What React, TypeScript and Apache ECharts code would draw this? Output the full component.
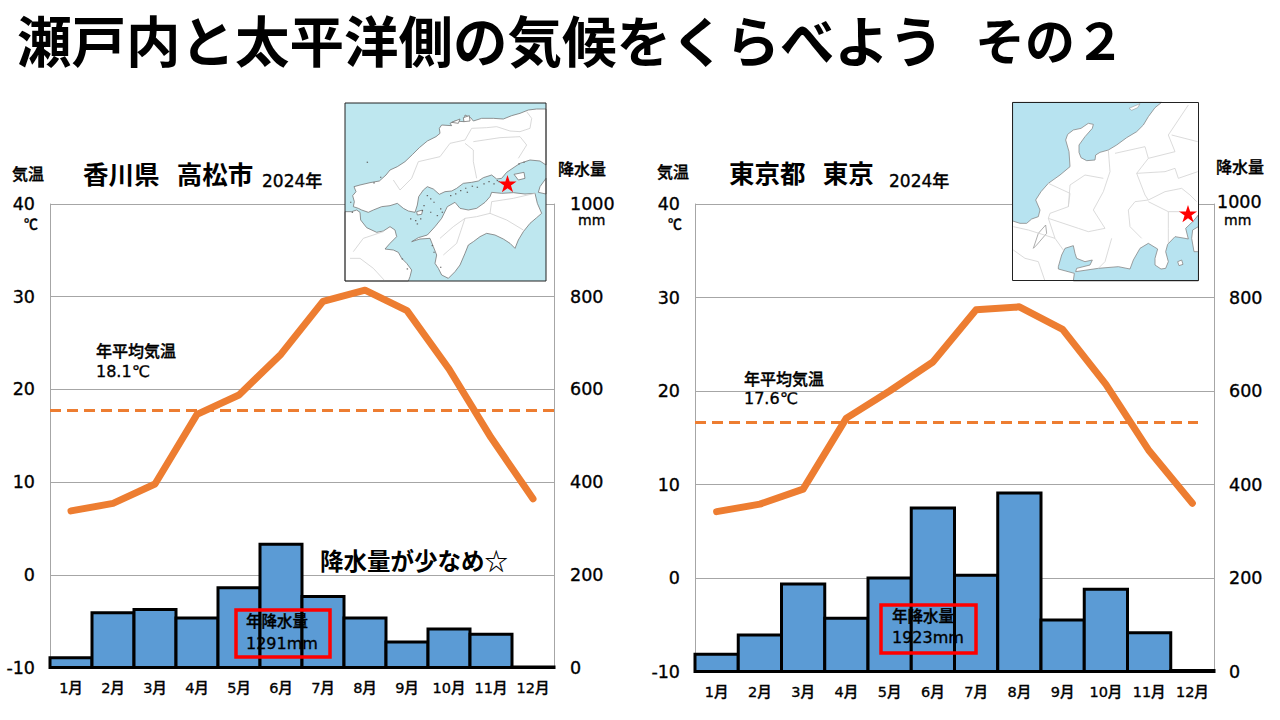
import React, { useEffect, useRef } from "react";
import * as echarts from "echarts";

const months = ["1月", "2月", "3月", "4月", "5月", "6月", "7月", "8月", "9月", "10月", "11月", "12月"];
const tempTicks = [-10, 0, 10, 20, 30, 40];
const rainTicks = [0, 200, 400, 600, 800, 1000];
const takamatsuTemp = [6.9, 7.7, 9.8, 17.3, 19.4, 23.8, 29.5, 30.7, 28.5, 22.2, 14.8, 8.2];
const takamatsuRain = [21, 118, 125, 107, 172, 266, 153, 107, 55, 83, 72, 1];
const takamatsuMean = 17.8;
const tokyoTemp = [7.1, 7.9, 9.5, 17.1, 20.0, 23.1, 28.7, 29.0, 26.6, 20.7, 13.6, 8.0];
const tokyoRain = [37, 78, 187, 114, 200, 350, 206, 382, 110, 176, 83, 2];
const tokyoMean = 16.7;

const FONT = '"Noto Sans CJK JP", "Noto Sans", sans-serif';
const NUMFONT = '"DejaVu Sans", "Noto Sans CJK JP", sans-serif';
const ORANGE = "#ED7D31";
const BLUE = "#5B9BD5";
const GRAY = "#A6A6A6";

type P = [number, number];

const leftLand: P[][] = [
  [[618,42],[590,42],[565,45],[540,55],[515,62],[490,72],[460,70],[425,70],[400,78],[392,68],[375,60],[372,80],[345,78],[330,85],[335,92],[305,90],[298,100],[300,115],[288,125],[262,138],[238,158],[218,178],[195,200],[172,215],[150,225],[138,240],[118,258],[90,263],[60,270],[42,275],[48,290],[38,302],[43,320],[40,335],[55,340],[65,345],[85,352],[100,345],[125,335],[150,332],[172,325],[190,340],[205,348],[225,352],[232,330],[236,305],[250,285],[262,275],[280,282],[298,298],[315,290],[335,288],[350,280],[370,265],[395,262],[415,258],[430,248],[455,240],[470,252],[485,250],[500,232],[525,215],[540,205],[570,195],[600,198],[618,210]],
  [[215,440],[235,428],[262,420],[285,395],[305,370],[322,335],[345,322],[360,340],[385,345],[410,340],[435,322],[450,305],[455,292],[485,295],[520,293],[555,297],[585,295],[592,325],[605,355],[590,368],[570,385],[550,410],[535,435],[525,460],[510,445],[490,432],[465,420],[440,415],[420,425],[400,440],[385,450],[375,475],[360,510],[345,530],[325,550],[305,540],[295,520],[285,505],[290,480],[280,455],[270,430],[240,432]],
  [[15,350],[35,350],[50,345],[60,352],[62,375],[80,398],[110,412],[130,408],[150,395],[165,405],[170,425],[150,445],[135,462],[160,465],[175,472],[185,490],[200,505],[215,525],[210,545],[205,558],[15,558]],
  [[618,250],[600,275],[595,292],[618,297]],
  [[522,238],[552,232],[555,250],[535,255]],
  [[335,82],[360,72],[355,85]],
  [[370,68],[388,62],[390,78],[372,80]],
  [[230,350],[248,345],[245,358],[232,360]],
];
const leftBorders: P[][] = [
  [[375,135],[395,100],[440,98],[470,95],[510,108],[540,110],[570,100],[575,70],[560,50]],
  [[375,135],[330,145],[300,185],[235,200],[215,250],[180,285],[160,255]],
  [[375,145],[400,165],[400,200],[410,250]],
  [[400,140],[480,128],[540,125],[560,150],[535,190]],
  [[450,355],[455,320],[520,310],[585,295]],
  [[300,430],[340,395],[375,370],[410,365],[450,355],[500,375],[550,405]],
  [[310,480],[350,445],[375,370]],
  [[40,470],[70,430],[130,410]],
  [[30,490],[60,490],[100,520],[135,558]],
];
const rightSado: P[] = [[372,40],[405,26],[398,38],[380,46]];
const rightSea: P[][] = [
  [[23,22],[470,22],[450,38],[430,65],[415,90],[395,110],[365,128],[335,150],[310,165],[285,172],[272,180],[270,195],[245,197],[228,188],[222,172],[222,150],[240,125],[262,100],[265,88],[250,85],[228,100],[205,105],[188,118],[182,135],[192,170],[195,215],[165,240],[130,265],[108,290],[92,315],[105,345],[100,365],[80,372],[65,385],[45,385],[23,378]],
  [[160,515],[170,480],[180,460],[205,452],[210,475],[215,490],[240,500],[262,495],[255,510],[215,520],[212,530],[280,520],[340,515],[375,522],[385,495],[405,460],[430,445],[458,462],[450,490],[450,510],[468,522],[482,520],[490,500],[482,470],[488,448],[510,425],[540,430],[550,432],[542,400],[565,378],[580,360],[580,558],[205,558],[208,535],[160,522]],
];
const rightIslands: P[][] = [
  [[563,405],[580,395],[580,470],[567,470],[560,430]],
  [[518,500],[530,495],[534,508],[522,512]],
];
const rightBorders: P[][] = [
  [[310,165],[315,230],[295,290],[265,345],[300,400],[250,410],[220,400],[130,370],[135,355],[190,335],[195,270],[240,240],[295,250]],
  [[130,265],[195,295],[190,335]],
  [[330,175],[420,155],[430,190],[395,235],[420,300],[430,315],[390,320],[370,345],[375,395],[410,430]],
  [[430,190],[510,170],[490,120],[550,30]],
  [[395,235],[480,230],[510,220],[520,250],[578,230]],
  [[430,315],[480,290],[530,280],[555,300],[575,320]],
  [[430,320],[490,350],[525,350]],
  [[490,350],[490,400],[490,445]],
  [[320,430],[300,500],[280,520]],
  [[130,370],[150,430],[175,465]],
  [[25,395],[70,405],[150,430]],
  [[25,465],[60,490],[100,500],[120,558]],
  [[500,120],[578,140]],
];
const rightBiwa: P[] = [[85,460],[100,415],[122,390],[125,415],[95,450]];
const leftSpecks: P[] = [[260,300],[280,320],[300,340],[250,330],[270,310],[245,345],[330,300],[345,295],[360,285],[375,278],[380,290],[395,272],[410,275],[430,265],[445,258],[460,265],[475,258],[240,370],[210,370],[225,375],[270,350],[290,360],[305,350],[230,385],[300,515],[280,470],[275,450],[200,520],[185,490],[80,200],[470,255],[535,205],[550,200],[30,320],[35,350],[100,262],[120,245]];

const star = (cx: number, cy: number, r: number): P[] => {
  const out: P[] = [];
  for (let i = 0; i < 10; i++) {
    const rr = i % 2 === 0 ? r : r * 0.382;
    const a = -Math.PI / 2 + (i * Math.PI) / 5;
    out.push([cx + rr * Math.cos(a), cy + rr * Math.sin(a)]);
  }
  return out;
};

const Z = 100;

function text(x: number, y: number, t: string, size: number, weight: number | string = 500, font = NUMFONT) {
  const thin = weight === 500;
  return {
    type: "text",
    x,
    y,
    z: Z + 3,
    style: {
      text: t,
      fontSize: size,
      fontWeight: weight,
      fontFamily: font,
      fill: "#000",
      align: "left",
      verticalAlign: "middle",
      ...(thin ? { stroke: "#000", lineWidth: 0.35 } : {}),
    },
  };
}

function poly(ox: number, oy: number, pts: P[], fill: string, stroke: string, lw: number, z: number) {
  return {
    type: "polygon",
    z,
    shape: { points: pts.map(([x, y]) => [ox + x / 3, oy + y / 3]) },
    style: { fill, stroke, lineWidth: lw },
  };
}
function line(ox: number, oy: number, pts: P[], stroke: string, lw: number, z: number) {
  return {
    type: "polyline",
    z,
    shape: { points: pts.map(([x, y]) => [ox + x / 3, oy + y / 3]) },
    style: { fill: "none", stroke, lineWidth: lw },
  };
}

function leftMap(): any[] {
  const ox = 340, oy = 95;
  const els: any[] = [];
  els.push({ type: "rect", z: Z, shape: { x: 345, y: 103, width: 201, height: 178 }, style: { fill: "#BEE7EF", stroke: "none" } });
  leftLand.forEach((p) => els.push(poly(ox, oy, p, "#fff", "#777", 0.8, Z + 1)));
  leftBorders.forEach((p) => els.push(line(ox, oy, p, "#CFCFCF", 0.8, Z + 1)));
  leftSpecks.forEach(([x, y]) => els.push({ type: "rect", z: Z + 1, shape: { x: ox + x / 3, y: oy + y / 3, width: 1.4, height: 1.2 }, style: { fill: "#666" } }));
  els.push({ type: "rect", z: Z + 2, shape: { x: 345, y: 103, width: 201, height: 178 }, style: { fill: "none", stroke: "#222", lineWidth: 1 } });
  els.push({ type: "polygon", z: Z + 2, shape: { points: star(507.5, 184.5, 9.5) }, style: { fill: "#FF0000" } });
  return els;
}

function rightMap(): any[] {
  const ox = 1005, oy = 95;
  const els: any[] = [];
  els.push({ type: "rect", z: Z, shape: { x: 1012.5, y: 102.5, width: 186, height: 178 }, style: { fill: "#fff", stroke: "none" } });
  rightSea.forEach((p) => els.push(poly(ox, oy, p, "#B7E3F0", "#888", 0.8, Z + 1)));
  rightIslands.forEach((p) => els.push(poly(ox, oy, p, "#fff", "#888", 0.8, Z + 1)));
  els.push(poly(ox, oy, rightSado, "#fff", "#999", 0.6, Z + 1));
  els.push(poly(ox, oy, rightBiwa, "#fff", "#999", 0.8, Z + 1));
  rightBorders.forEach((p) => els.push(line(ox, oy, p, "#D2D2D2", 0.8, Z + 1)));
  els.push({ type: "rect", z: Z + 2, shape: { x: 1012.5, y: 102.5, width: 186, height: 178 }, style: { fill: "none", stroke: "#222", lineWidth: 1 } });
  els.push({ type: "polygon", z: Z + 2, shape: { points: star(1188, 214.5, 9.5) }, style: { fill: "#FF0000" } });
  return els;
}

function redBox(x: number, y: number, w: number, h: number) {
  return { type: "rect", z: Z, shape: { x, y, width: w, height: h }, style: { fill: "none", stroke: "#FF0000", lineWidth: 3.5 } };
}

const renderBar = (params: any, api: any) => {
  const i = api.value(0);
  const top = api.coord([i, api.value(1)]);
  const base = api.coord([i, 0]);
  const w = api.size([1, 0])[0];
  return {
    type: "rect",
    shape: { x: top[0] - w / 2, y: top[1], width: w, height: base[1] - top[1] },
    style: { fill: BLUE, stroke: "#000", lineWidth: 3 },
  };
};

function chartParts(gridIndex: number, temp: number[], rain: number[], mean: number, x0: number, x1: number, pad: number, rightMargin: number, hideTop: boolean) {
  const tAxis = gridIndex * 2;
  const rAxis = gridIndex * 2 + 1;
  const labelBase = { color: "#000", fontSize: 17.5, fontFamily: NUMFONT, fontWeight: 500, textBorderColor: "#000", textBorderWidth: 0.35 };
  return {
    xAxis: {
      type: "category",
      gridIndex,
      data: months,
      axisTick: { show: false },
      axisLine: { show: false },
      axisLabel: { ...labelBase, fontSize: 14.5, margin: 13, interval: 0 },
    },
    yAxis: [
      {
        type: "value",
        gridIndex,
        min: tempTicks[0],
        max: tempTicks[tempTicks.length - 1],
        interval: 10,
        axisLine: { show: true, lineStyle: { color: GRAY, width: 1 } },
        axisTick: { show: false },
        splitLine: { show: true, lineStyle: { color: GRAY, width: 1 } },
        axisLabel: { ...labelBase, margin: 15, padding: [0, 0, pad, 0] },
      },
      {
        type: "value",
        gridIndex,
        position: "right",
        min: rainTicks[0],
        max: rainTicks[rainTicks.length - 1],
        interval: 200,
        axisLine: { show: true, lineStyle: { color: GRAY, width: 1 } },
        axisTick: { show: false },
        splitLine: { show: false },
        axisLabel: {
          ...labelBase,
          margin: rightMargin,
          padding: [0, 0, pad, 0],
          formatter: (v: number) => (hideTop && v === 1000 ? "" : String(v)),
        },
      },
    ],
    series: [
      {
        type: "custom",
        xAxisIndex: gridIndex,
        yAxisIndex: rAxis,
        data: rain.map((v, i) => [i, v]),
        encode: { x: 0, y: 1 },
        renderItem: renderBar,
        clip: false,
        z: 2,
      },
      {
        type: "line",
        xAxisIndex: gridIndex,
        yAxisIndex: tAxis,
        data: temp,
        symbol: "none",
        lineStyle: { color: ORANGE, width: 7, join: "round", cap: "round" },
        z: 3,
        markLine: {
          silent: true,
          symbol: "none",
          label: { show: false },
          lineStyle: { color: ORANGE, width: 3, type: [11, 6] },
          data: [[{ yAxis: mean, x: x0 }, { yAxis: mean, x: x1 }]],
        },
      },
    ],
  };
}

export default function App() {
  const ref = useRef<HTMLDivElement>(null);
  useEffect(() => {
    document.body.style.margin = "0";
    const chart = echarts.init(ref.current!, undefined, { renderer: "svg" });
    const a = chartParts(0, takamatsuTemp, takamatsuRain, takamatsuMean, 50, 554, 5, 16, false);
    const b = chartParts(1, tokyoTemp, tokyoRain, tokyoMean, 695, 1198, 7, 15, true);
    chart.setOption({
      animation: false,
      backgroundColor: "#fff",
      grid: [
        { left: 50, top: 204, width: 504, height: 463.5 },
        { left: 695, top: 204, width: 519, height: 467.5 },
      ],
      xAxis: [a.xAxis, b.xAxis],
      yAxis: [...a.yAxis, ...b.yAxis],
      series: [...a.series, ...b.series],
      graphic: {
        elements: [
          text(17, 38, "瀬戸内と太平洋側の気候をくらべよう", 54.5, 700, FONT),
          text(975, 38, "その２", 50, 700, FONT),
          ...leftMap(),
          ...rightMap(),
          text(12, 174, "気温", 16),
          text(558, 169, "降水量", 16),
          text(24, 223, "℃", 14, 500, FONT),
          text(578, 220, "mm", 14),
          text(83, 172, "香川県   高松市", 25.5, 700, FONT),
          text(262, 181, "2024年", 17),
          text(96, 351, "年平均気温", 16),
          text(96, 371, "18.1℃", 16),
          redBox(236, 610, 94, 47),
          text(246, 622, "年降水量", 15.5),
          text(246, 643, "1291mm", 16),
          text(320, 560, "降水量が少なめ☆", 23.5, 700, FONT),
          text(657, 172, "気温", 16),
          text(1216, 167, "降水量", 16),
          text(668, 223, "℃", 14, 500, FONT),
          text(1217, 202, "1000", 17.5),
          text(1224, 220, "mm", 14),
          text(729, 171, "東京都   東京", 25.5, 700, FONT),
          text(889, 181, "2024年", 17),
          text(744, 379, "年平均気温", 16),
          text(744, 398, "17.6℃", 16),
          redBox(881, 605, 95, 48),
          text(892, 617, "年降水量", 15.5),
          text(892, 637, "1923mm", 16),
        ],
      },
    });
    return () => chart.dispose();
  }, []);
  return <div ref={ref} style={{ width: 1280, height: 720 }} />;
}
